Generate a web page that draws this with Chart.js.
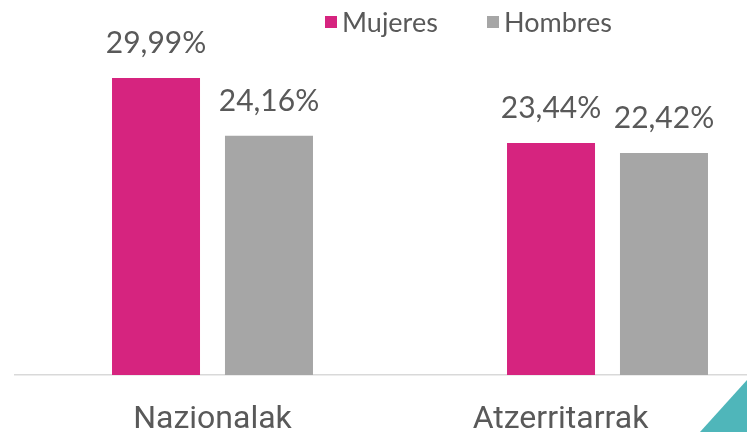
<!DOCTYPE html>
<html>
<head>
<meta charset="utf-8">
<script src="https://cdn.jsdelivr.net/npm/chart.js@4.4.0/dist/chart.umd.min.js"></script>
<style>
  html, body { margin: 0; padding: 0; background: #fff; overflow: hidden; width: 747px; height: 432px; }
  #wrap { position: relative; width: 810px; height: 432px; }
  #corner {
    position: absolute; left: 700px; top: 380px; width: 47px; height: 52px;
    background: #4fb6ba; clip-path: polygon(100% 0, 100% 100%, 0 100%);
  }
</style>
</head>
<body>
<div id="wrap"><canvas id="grafico" width="810" height="432"></canvas></div>
<div id="corner"></div>
<script>
const categorias = ["Nazionalak", "Atzerritarrak"];
const mujeres = [29.99, 23.44];
const hombres = [24.16, 22.42];

const colorMujeres = "#d6247f";
const colorHombres = "#a6a6a6";
const colorTexto = "#595959";

function formatoPorcentaje(v) {
  return v.toFixed(2).replace(".", ",") + "%";
}

// etiquetas encima de cada barra
const etiquetas = {
  id: "etiquetas",
  afterDatasetsDraw(chart) {
    const ctx = chart.ctx;
    ctx.save();
    ctx.font = "30px Lato";
    ctx.fillStyle = colorTexto;
    ctx.textAlign = "center";
    ctx.textBaseline = "alphabetic";
    chart.data.datasets.forEach((ds, i) => {
      chart.getDatasetMeta(i).data.forEach((bar, j) => {
        ctx.fillText(formatoPorcentaje(ds.data[j]), bar.x, bar.y - 25);
      });
    });
    ctx.restore();
  }
};

// nombres de categoria: el ultimo se corre a la izquierda, como en el original recortado
const nombresEje = {
  id: "nombresEje",
  afterDraw(chart) {
    const ctx = chart.ctx;
    const escala = chart.scales.x;
    const ajuste = [0, -47];
    ctx.save();
    ctx.font = "32px Roboto";
    ctx.fillStyle = colorTexto;
    ctx.textAlign = "center";
    ctx.textBaseline = "alphabetic";
    chart.data.labels.forEach((nombre, i) => {
      ctx.fillText(nombre, escala.getPixelForValue(i) + ajuste[i], chart.chartArea.bottom + 53);
    });
    ctx.restore();
  }
};

// leyenda propia (no centrada en el lienzo)
const leyenda = {
  id: "leyenda",
  afterDraw(chart) {
    const ctx = chart.ctx;
    ctx.save();
    ctx.font = "27px Lato";
    ctx.textBaseline = "middle";
    const pos = [325, 487];
    chart.data.datasets.forEach((ds, i) => {
      ctx.fillStyle = ds.backgroundColor;
      ctx.fillRect(pos[i], 16, 12, 12);
      ctx.fillStyle = colorTexto;
      ctx.fillText(ds.label, pos[i] + 17, 23);
    });
    ctx.restore();
  }
};

const grafico = new Chart(document.getElementById("grafico"), {
  type: "bar",
  data: {
    labels: categorias,
    datasets: [
      { label: "Mujeres", data: mujeres, backgroundColor: colorMujeres },
      { label: "Hombres", data: hombres, backgroundColor: colorHombres }
    ]
  },
  options: {
    responsive: false,
    animation: false,
    categoryPercentage: 0.572,
    barPercentage: 0.779,
    layout: { padding: { top: 78, left: 15, right: 5, bottom: 0 } },
    plugins: { legend: { display: false }, tooltip: { enabled: false } },
    scales: {
      y: { display: false, min: 0, max: 30 },
      x: {
        grid: { display: false },
        border: { display: true, color: "#d9d9d9", width: 1.5 },
        ticks: { display: false },
        afterFit: (scale) => { scale.height = 57; }
      }
    }
  },
  plugins: [etiquetas, nombresEje, leyenda]
});
</script>
</body>
</html>
